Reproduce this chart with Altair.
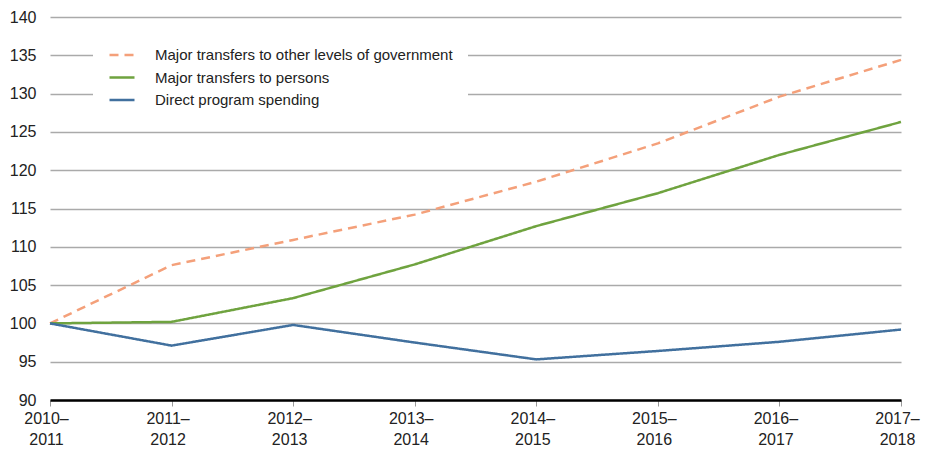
import altair as alt
import pandas as pd

periods = ["2010–2011", "2011–2012", "2012–2013", "2013–2014",
           "2014–2015", "2015–2016", "2016–2017", "2017–2018"]
series_names = ["Major transfers to other levels of government",
                "Major transfers to persons",
                "Direct program spending"]
other_levels = [100.0, 107.6, 110.9, 114.2, 118.5, 123.5, 129.6, 134.4]
persons = [100.0, 100.2, 103.3, 107.7, 112.7, 117.0, 122.0, 126.3]
direct = [100.0, 97.1, 99.8, 97.5, 95.3, 96.4, 97.6, 99.2]
colors = ["#F4A07A", "#6FA33F", "#41709E"]
dashes = [[9, 6], [1, 0], [1, 0]]

rows = []
for name, vals in zip(series_names, [other_levels, persons, direct]):
    for p, v in zip(periods, vals):
        rows.append({"period": p, "series": name, "value": v})
df = pd.DataFrame(rows)

FONT = "Liberation Sans"


def make_legend():
    return alt.Legend(title=None, orient="none", legendX=43, legendY=9,
                      fillColor="white", padding=15,
                      symbolType="stroke", symbolSize=625,
                      symbolStrokeWidth=2.5, labelFontSize=15,
                      labelFont=FONT, labelColor="#222", labelLimit=500,
                      labelOffset=19, rowPadding=0.5)


chart = alt.Chart(df).mark_line(strokeWidth=2.5).encode(
    x=alt.X("period:N", sort=periods,
            scale=alt.Scale(type="point", padding=0),
            axis=alt.Axis(title=None, labelAngle=0, labelFontSize=16,
                          labelColor="#222", labelFont=FONT,
                          labelExpr="[slice(datum.value,0,5), slice(datum.value,5)]",
                          labelLineHeight=21, labelPadding=4, labelOffset=-4,
                          domainColor="#000", domainWidth=2.5,
                          tickColor="#999", tickSize=6, tickWidth=1,
                          grid=False)),
    y=alt.Y("value:Q",
            scale=alt.Scale(domain=[90, 140], nice=False, zero=False),
            axis=alt.Axis(title=None, values=list(range(90, 141, 5)),
                          labelFontSize=16, labelColor="#222", labelFont=FONT,
                          labelPadding=14, ticks=False, domain=False,
                          gridColor="#aaa", gridWidth=1.5)),
    color=alt.Color("series:N", sort=series_names,
                    scale=alt.Scale(domain=series_names, range=colors),
                    legend=make_legend()),
    strokeDash=alt.StrokeDash("series:N", sort=series_names,
                              scale=alt.Scale(domain=series_names, range=dashes),
                              legend=make_legend()),
).properties(
    width=851, height=383,
    autosize=alt.AutoSizeParams(type="none"),
    padding={"left": 42, "top": 9, "right": 22, "bottom": 48},
).configure_view(stroke=None)

chart.save("out.html", embed_options={"renderer": "svg", "actions": False})
